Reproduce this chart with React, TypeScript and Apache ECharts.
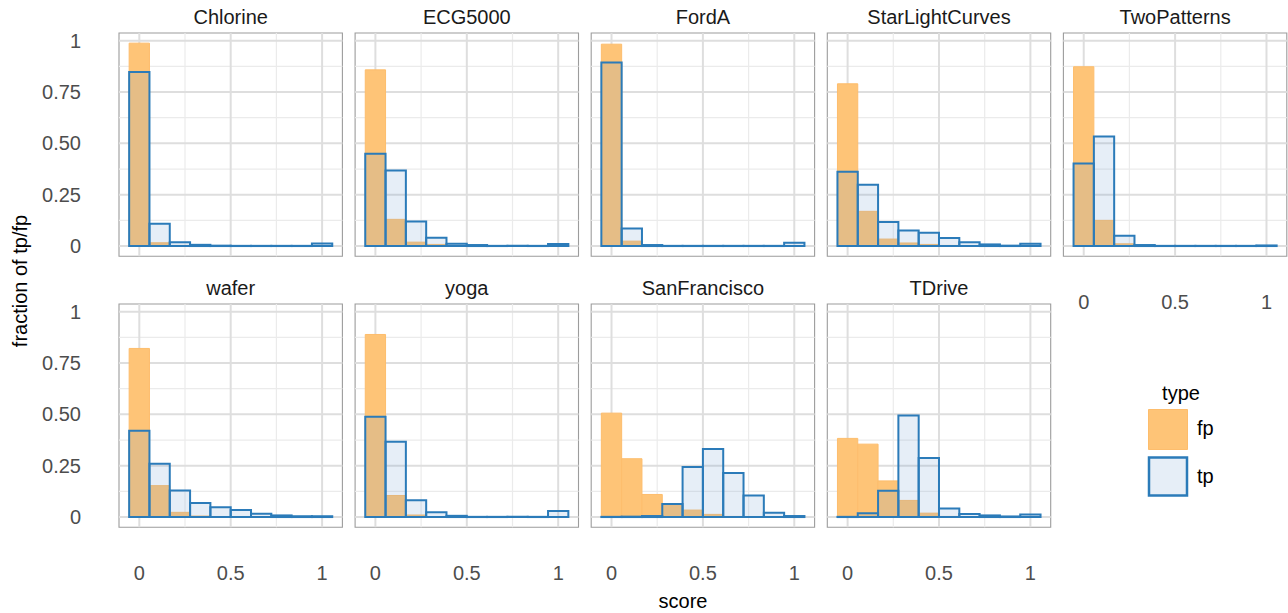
import React, { useEffect, useRef } from "react";
import * as echarts from "echarts";

// ---- data ----
const PANEL_NAMES = ["Chlorine", "ECG5000", "FordA", "StarLightCurves", "TwoPatterns", "wafer", "yoga", "SanFrancisco", "TDrive"];
const BIN_CENTERS = [0, 0.1111, 0.2222, 0.3333, 0.4444, 0.5556, 0.6667, 0.7778, 0.8889, 1.0];
const BIN_WIDTH = 0.1111;

const FP_CHLORINE = [0.988, 0.016, 0.003, 0, 0, 0, 0, 0, 0, 0.002];
const TP_CHLORINE = [0.847, 0.109, 0.019, 0.006, 0.002, 0.001, 0.001, 0.001, 0.001, 0.013];
const FP_ECG5000 = [0.858, 0.130, 0.019, 0.008, 0.002, 0, 0, 0, 0, 0.003];
const TP_ECG5000 = [0.449, 0.368, 0.120, 0.041, 0.011, 0.005, 0.001, 0.001, 0.001, 0.010];
const FP_FORDA = [0.983, 0.024, 0.002, 0, 0, 0, 0, 0, 0, 0];
const TP_FORDA = [0.894, 0.086, 0.005, 0.001, 0.001, 0.001, 0.001, 0.001, 0.001, 0.016];
const FP_STARLIGHT = [0.790, 0.169, 0.034, 0.015, 0.008, 0.003, 0.001, 0, 0, 0.002];
const TP_STARLIGHT = [0.362, 0.298, 0.117, 0.076, 0.065, 0.039, 0.019, 0.008, 0.002, 0.011];
const FP_TWOPATTERNS = [0.873, 0.125, 0.011, 0.001, 0, 0, 0, 0, 0, 0];
const TP_TWOPATTERNS = [0.402, 0.534, 0.050, 0.005, 0.001, 0.001, 0.001, 0.001, 0.001, 0.003];
const FP_WAFER = [0.821, 0.153, 0.023, 0.005, 0.001, 0, 0, 0, 0, 0];
const TP_WAFER = [0.420, 0.260, 0.129, 0.069, 0.048, 0.034, 0.016, 0.008, 0.004, 0.004];
const FP_YOGA = [0.889, 0.105, 0.010, 0.001, 0, 0, 0, 0, 0, 0];
const TP_YOGA = [0.488, 0.367, 0.082, 0.023, 0.006, 0.001, 0.001, 0.001, 0.001, 0.029];
const FP_SANFRANCISCO = [0.506, 0.284, 0.110, 0.058, 0.034, 0.013, 0.003, 0, 0, 0];
const TP_SANFRANCISCO = [0.001, 0.002, 0.005, 0.063, 0.244, 0.331, 0.215, 0.105, 0.021, 0.005];
const FP_TDRIVE = [0.383, 0.355, 0.176, 0.081, 0.019, 0.003, 0.001, 0, 0, 0];
const TP_TDRIVE = [0.001, 0.019, 0.128, 0.494, 0.288, 0.042, 0.015, 0.008, 0.003, 0.013];

const FP_VALUES = [FP_CHLORINE, FP_ECG5000, FP_FORDA, FP_STARLIGHT, FP_TWOPATTERNS, FP_WAFER, FP_YOGA, FP_SANFRANCISCO, FP_TDRIVE];
const TP_VALUES = [TP_CHLORINE, TP_ECG5000, TP_FORDA, TP_STARLIGHT, TP_TWOPATTERNS, TP_WAFER, TP_YOGA, TP_SANFRANCISCO, TP_TDRIVE];

const Y_TICKS = [0, 0.25, 0.5, 0.75, 1];
const Y_TICK_LABELS = ["0", "0.25", "0.50", "0.75", "1"];
const Y_MINOR = [0.125, 0.375, 0.625, 0.875];
const X_TICKS = [0, 0.5, 1];
const X_TICK_LABELS = ["0", "0.5", "1"];
const X_MINOR = [0.25, 0.75];

// ---- layout / style ----
const PANEL_LEFTS = [119, 355.1, 591.2, 827.3, 1063.4];
const PANEL_TOPS = [33, 304];
const PANEL_W = 223.4;
const PANEL_H = 223.2;
const X_MIN = -0.1111, X_MAX = 1.1111;
const Y_MIN = -0.0494, Y_MAX = 1.0374;
const FONT = "'Liberation Sans', Arial, Helvetica, sans-serif";
const FP_FILL = "#FEC477";
const FP_STROKE = "#FDBD6C";
const TP_FILL = "rgba(108,155,208,0.17)";
const TP_STROKE = "#2B7BB9";

function buildOption() {
  const grids: any[] = [];
  const xAxes: any[] = [];
  const yAxes: any[] = [];
  const series: any[] = [];
  const graphics: any[] = [];

  PANEL_NAMES.forEach((name, i) => {
    const row = i < 5 ? 0 : 1;
    const col = i < 5 ? i : i - 5;
    const left = PANEL_LEFTS[col];
    const top = PANEL_TOPS[row];
    grids.push({
      left, top, width: PANEL_W, height: PANEL_H,
      show: true, borderColor: "#9C9C9C", borderWidth: 1.1, backgroundColor: "#fff",
      containLabel: false,
    });
    const showX = row === 1 || col === 4;
    const showY = col === 0;
    xAxes.push({
      type: "value", gridIndex: i, min: X_MIN, max: X_MAX,
      axisLine: { show: false, onZero: false }, axisTick: { show: false }, splitLine: { show: false },
      axisLabel: {
        show: showX, customValues: X_TICKS, margin: 36, color: "#4D4D4D", fontSize: 20, fontFamily: FONT,
        formatter: (v: number) => { const k = X_TICKS.findIndex(t => Math.abs(t - v) < 1e-6); return k >= 0 ? X_TICK_LABELS[k] : ""; },
      },
    });
    yAxes.push({
      type: "value", gridIndex: i, min: Y_MIN, max: Y_MAX,
      axisLine: { show: false }, axisTick: { show: false }, splitLine: { show: false },
      axisLabel: {
        show: showY, customValues: Y_TICKS, margin: 38, color: "#4D4D4D", fontSize: 20, fontFamily: FONT,
        formatter: (v: number) => { const k = Y_TICKS.findIndex(t => Math.abs(t - v) < 1e-6); return k >= 0 ? Y_TICK_LABELS[k] : ""; },
      },
    });

    const gridData: number[][] = [];
    Y_MINOR.forEach(v => gridData.push([v, 0, 0]));
    X_MINOR.forEach(v => gridData.push([v, 1, 0]));
    Y_TICKS.forEach(v => gridData.push([v, 0, 1]));
    X_TICKS.forEach(v => gridData.push([v, 1, 1]));
    series.push({
      type: "custom", xAxisIndex: i, yAxisIndex: i, z: 1, silent: true,
      data: gridData,
      renderItem: (params: any, api: any) => {
        const cs = params.coordSys;
        const v = api.value(0), vert = api.value(1), major = api.value(2);
        const style = { stroke: major ? "#DEDEDE" : "#EBEBEB", lineWidth: major ? 2 : 1.2 };
        if (vert) {
          const x = api.coord([v, 0])[0];
          return { type: "line", shape: { x1: x, y1: cs.y, x2: x, y2: cs.y + cs.height }, style };
        }
        const y = api.coord([0, v])[1];
        return { type: "line", shape: { x1: cs.x, y1: y, x2: cs.x + cs.width, y2: y }, style };
      },
    });

    const mk = (vals: number[], fill: string, stroke: string, lw: number, z: number, keepZero: boolean) => ({
      type: "custom", xAxisIndex: i, yAxisIndex: i, z, silent: true,
      encode: { x: [0, 1], y: 2 },
      data: BIN_CENTERS.map((c, k) => [c - BIN_WIDTH / 2, c + BIN_WIDTH / 2, vals[k]]).filter(d => keepZero || d[2] > 0),
      renderItem: (params: any, api: any) => {
        const a = api.coord([api.value(0), api.value(2)]);
        const b = api.coord([api.value(1), 0]);
        return {
          type: "rect",
          shape: { x: a[0], y: a[1], width: b[0] - a[0], height: b[1] - a[1] },
          style: { fill, stroke, lineWidth: lw },
        };
      },
    });
    series.push(mk(FP_VALUES[i], FP_FILL, FP_STROKE, 1, 2, false));
    series.push(mk(TP_VALUES[i], TP_FILL, TP_STROKE, 2, 3, true));

    graphics.push({
      type: "text", x: left + PANEL_W / 2, y: top - 16,
      style: { text: name, fill: "#1A1A1A", font: `20px ${FONT}`, align: "center", verticalAlign: "middle" },
    });
  });

  // axis titles
  graphics.push({
    type: "text", x: 20, y: 281, rotation: Math.PI / 2,
    style: { text: "fraction of tp/fp", fill: "#000", font: `20px ${FONT}`, align: "center", verticalAlign: "middle" },
  });
  graphics.push({
    type: "text", x: 683, y: 601,
    style: { text: "score", fill: "#000", font: `20px ${FONT}`, align: "center", verticalAlign: "middle" },
  });
  // legend
  graphics.push({ type: "text", x: 1181, y: 393, style: { text: "type", fill: "#000", font: `20px ${FONT}`, align: "center", verticalAlign: "middle" } });
  graphics.push({ type: "rect", shape: { x: 1148.5, y: 409.5, width: 39, height: 40 }, style: { fill: FP_FILL, stroke: FP_STROKE, lineWidth: 1 } });
  graphics.push({ type: "rect", shape: { x: 1149, y: 457.5, width: 38, height: 38 }, style: { fill: TP_FILL, stroke: TP_STROKE, lineWidth: 2.5 } });
  graphics.push({ type: "text", x: 1197, y: 428, style: { text: "fp", fill: "#000", font: `20px ${FONT}`, align: "left", verticalAlign: "middle" } });
  graphics.push({ type: "text", x: 1197, y: 476, style: { text: "tp", fill: "#000", font: `20px ${FONT}`, align: "left", verticalAlign: "middle" } });

  return {
    animation: false,
    backgroundColor: "#fff",
    grid: grids,
    xAxis: xAxes,
    yAxis: yAxes,
    series,
    graphic: graphics,
  };
}

export default function App() {
  const ref = useRef<HTMLDivElement>(null);
  useEffect(() => {
    document.body.style.margin = "0";
    if (!ref.current) return;
    const chart = echarts.init(ref.current, undefined, { renderer: "svg" });
    chart.setOption(buildOption() as any);
    return () => chart.dispose();
  }, []);
  return <div ref={ref} style={{ width: 1288, height: 613 }} />;
}
